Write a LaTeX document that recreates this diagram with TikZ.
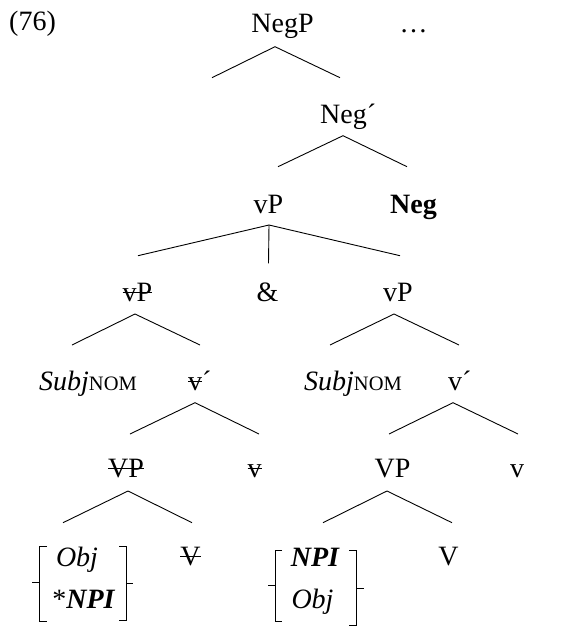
\documentclass[tikz,border=0pt]{standalone}
\usepackage{fontspec}
\setmainfont{Liberation Serif}
\newcommand\strk[1]{\leavevmode\setbox0\hbox{#1}\rlap{\rule[8pt]{\wd0}{1.1pt}}\box0}
\newcommand\subjnom{{\itshape Subj}{\fontsize{20.5}{20.5}\selectfont NOM}}
\begin{document}
\begin{tikzpicture}[x=1pt,y=-1pt,
  lbl/.style={inner sep=0pt, anchor=base, font=\fontsize{28}{28}\selectfont},
  edge/.style={line width=0.9pt},
  brk/.style={line width=0.9pt}]
\useasboundingbox (0,0) rectangle (565,626);
% labels
\node[lbl, anchor=base west] (ex) at (9,31) {(76)};
\node[lbl] (negp) at (282.5,33) {NegP};
\node[lbl] (dots) at (413.5,33) {…};
\node[lbl, anchor=base west] (negbar) at (320,123) {Neg´};
\node[lbl] (vp) at (268.5,213) {vP};
\node[lbl] (neg) at (413.5,213) {\bfseries Neg};
\node[lbl] (vpl) at (137.5,301) {\strk{vP}};
\node[lbl] (amp) at (267.5,301) {\&};
\node[lbl] (vpr) at (398,301) {vP};
\node[lbl, anchor=base west] (subjl) at (39,390) {\subjnom};
\node[lbl, anchor=base west] (vbarl) at (188,390) {\strk{v}´};
\node[lbl, anchor=base west] (subjr) at (304,390) {\subjnom};
\node[lbl, anchor=base west] (vbarr) at (448,390) {v´};
\node[lbl] (VPl) at (126,477) {\strk{VP}};
\node[lbl] (vl) at (254.5,477) {\strk{v}};
\node[lbl] (VPr) at (392.5,477) {VP};
\node[lbl] (vr) at (517,477) {v};
\node[lbl] (objl) at (77,566.7) {\itshape Obj};
\node[lbl] (npil) at (83.5,608) {*\bfseries\itshape NPI};
\node[lbl] (Vl) at (190.5,565) {\strk{V}};
\node[lbl] (npir) at (315,566) {\bfseries\itshape NPI};
\node[lbl] (objr) at (312.5,608) {\itshape Obj};
\node[lbl] (Vr) at (448.5,565) {V};
% branch points
\coordinate (a1) at (275,46.7);  \coordinate (a1l) at (212,77.7);  \coordinate (a1r) at (340,77.7);
\coordinate (a2) at (343,135.7); \coordinate (a2l) at (278,166.7); \coordinate (a2r) at (407,166.7);
\coordinate (a3) at (269,225);   \coordinate (a3l) at (138,255.7); \coordinate (a3m) at (268.5,263.3); \coordinate (a3r) at (400,255.7);
\coordinate (a4) at (135,314);   \coordinate (a4l) at (72,345);    \coordinate (a4r) at (200,345);
\coordinate (a5) at (394,314);   \coordinate (a5l) at (330,345);   \coordinate (a5r) at (459,345);
\coordinate (a6) at (195,402.7); \coordinate (a6l) at (130,434);   \coordinate (a6r) at (259,434);
\coordinate (a7) at (453,402.7); \coordinate (a7l) at (389,434);   \coordinate (a7r) at (518,434);
\coordinate (a8) at (128,491);   \coordinate (a8l) at (63,522.7);  \coordinate (a8r) at (192,522.7);
\coordinate (a9) at (387,491);   \coordinate (a9l) at (323,522.7); \coordinate (a9r) at (452,522.7);
\draw[edge] (a1l) -- (a1) -- (a1r);
\draw[edge] (a2l) -- (a2) -- (a2r);
\draw[edge] (a3l) -- (a3) -- (a3r);
\draw[edge] (a3) -- (a3m);
\draw[edge] (a4l) -- (a4) -- (a4r);
\draw[edge] (a5l) -- (a5) -- (a5r);
\draw[edge] (a6l) -- (a6) -- (a6r);
\draw[edge] (a7l) -- (a7) -- (a7r);
\draw[edge] (a8l) -- (a8) -- (a8r);
\draw[edge] (a9l) -- (a9) -- (a9r);
% brackets
\draw[brk] (47,546) -- (39,546) -- (39,621.7) -- (47,621.7);
\draw[brk] (32,582.7) -- (39,582.7);
\draw[brk] (119,546) -- (126,546) -- (126,620) -- (119,620);
\draw[brk] (126,583.3) -- (133,583.3);
\draw[brk] (282,550.7) -- (275,550.7) -- (275,621.7) -- (282,621.7);
\draw[brk] (268,585.7) -- (275,585.7);
\draw[brk] (349,550.7) -- (356,550.7) -- (356,625) -- (349,625);
\draw[brk] (356,588.3) -- (364,588.3);
\end{tikzpicture}
\end{document}
